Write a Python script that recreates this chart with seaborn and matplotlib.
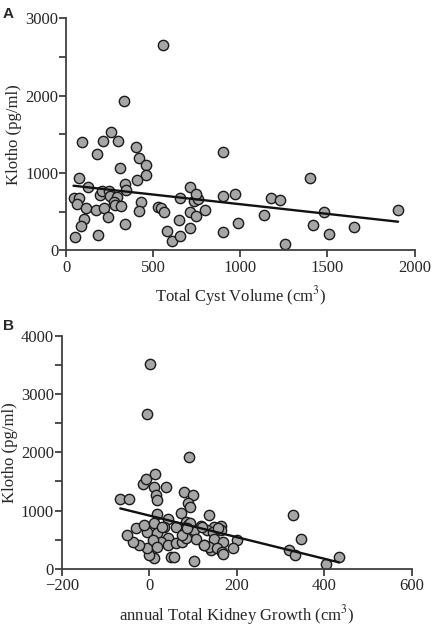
import matplotlib
matplotlib.use('Agg')
import matplotlib.pyplot as plt
import numpy as np
import pandas as pd
import seaborn as sns
from matplotlib.ticker import MultipleLocator

# Panel A: Klotho vs total cyst volume
tcv = [90, 180, 212, 258, 301, 331, 404, 416, 558, 903,
       312, 457, 457, 405, 76, 432, 336, 344, 125,
       43, 76, 63, 117, 171, 193, 207, 247, 254, 291, 273, 282, 316, 218, 240, 106, 86, 50, 186, 338, 421, 530, 544, 565,
       580, 606, 646, 656, 713, 714, 713, 737, 756, 748, 748, 798, 655, 902, 902, 971, 988, 1134, 1178, 1228, 1258,
       1399, 1418, 1482, 1510, 1651, 1905]
klotho_a = [1404, 1250, 1410, 1535, 1417, 1931, 1338, 1188, 2661, 1270,
            1067, 1105, 976, 912, 941, 630, 853, 782, 825,
            676, 676, 604, 545, 527, 715, 773, 768, 702, 690, 628, 585, 570, 545, 436, 406, 317, 167, 197, 337, 511, 558, 545, 501,
            250, 125, 391, 186, 285, 817, 497, 641, 667, 728, 448, 516, 676, 704, 233, 723, 350, 453, 678, 646, 80,
            935, 328, 490, 210, 306, 522]

# Panel B: Klotho vs annual total kidney growth
tkg = [1.5, -4.6, 91,
       -66, -45, -13, -8, 13, 11, 38, 15, 19,
       80, 101, 88, 93, 72, 136, 19, 42,
       329, 347, 320, 334, 434, 405,
       103, 50, 57, 11, 0, -4, -23, -38, -50, -30, -4, -11, 11, 34, 61, 19, 42, 27, 8, 19, 42, 61,
       84, 88, 118, 149, 164, 133, 145, 164, 80, 91, 103, 107, 76, 84, 149, 168, 200, 126, 141, 137, 156, 166, 192, 168,
       30, 74, 94, 86, 120, 125, 157]
klotho_b = [3514, 2657, 1924,
            1205, 1205, 1460, 1540, 1625, 1409, 1409, 1266, 1180,
            1323, 1266, 1124, 1065, 951, 918, 945, 860,
            925, 517, 322, 230, 207, 80,
            140, 206, 206, 178, 235, 350, 407, 464, 579, 694, 636, 751, 780, 722, 722, 608, 522, 464, 493, 378, 407, 436,
            808, 751, 734, 722, 739, 665, 636, 665, 608, 579, 665, 505, 464, 522, 505, 464, 493, 407, 321, 378, 350, 292, 350, 253,
            724, 580, 782, 707, 724, 408, 707]

df_a = pd.DataFrame({'tcv': tcv, 'klotho': klotho_a})
df_b = pd.DataFrame({'tkg': tkg, 'klotho': klotho_b})

sns.set_style('ticks')
plt.rcParams['font.family'] = ['Liberation Serif', 'DejaVu Serif']
plt.rcParams['mathtext.fontset'] = 'stix'

fig = plt.figure(figsize=(4.32, 6.27), dpi=100)
ax1 = fig.add_axes([0.1528, 0.6008, 0.807, 0.370])
ax2 = fig.add_axes([0.1428, 0.0930, 0.810, 0.371])

scat = dict(s=55, color='#a6a6a6', edgecolor='#1a1a1a', linewidths=1.0, alpha=1)
line = dict(color='#111111', linewidth=1.7)

sns.regplot(data=df_a, x='tcv', y='klotho', ax=ax1, ci=None,
            scatter_kws=scat, line_kws=line)
sns.regplot(data=df_b, x='tkg', y='klotho', ax=ax2, ci=None,
            scatter_kws=scat, line_kws=line)

ax1.set_xlim(0, 2000)
ax1.set_ylim(0, 3000)
ax1.xaxis.set_major_locator(MultipleLocator(500))
ax1.yaxis.set_major_locator(MultipleLocator(1000))
ax1.yaxis.set_minor_locator(MultipleLocator(500))
ax1.set_xlabel(r'Total Cyst Volume (cm$^3$)', fontsize=12, labelpad=6)

ax2.set_xlim(-200, 600)
ax2.set_ylim(0, 4000)
ax2.xaxis.set_major_locator(MultipleLocator(200))
ax2.yaxis.set_major_locator(MultipleLocator(1000))
ax2.yaxis.set_minor_locator(MultipleLocator(500))
ax2.set_xlabel(r'annual Total Kidney Growth (cm$^3$)', fontsize=12, labelpad=6)

for ax in (ax1, ax2):
    sns.despine(ax=ax)
    for s in ('left', 'bottom'):
        ax.spines[s].set_color('#404040')
        ax.spines[s].set_linewidth(1.3)
    ax.tick_params(which='both', direction='out', color='#404040', width=1.3,
                   labelsize=12, length=5)
    ax.tick_params(axis='y', which='both', pad=0.5)
    ax.tick_params(axis='x', which='both', pad=2)
    ax.set_ylabel('Klotho (pg/ml)', fontsize=12, labelpad=2)
    for t in ax.get_xticklabels() + ax.get_yticklabels():
        t.set_family('Liberation Serif')

fig.text(0.007, 0.978, 'A', fontsize=11, fontweight='bold', family='Liberation Sans', va='center')
fig.text(0.007, 0.48, 'B', fontsize=11, fontweight='bold', family='Liberation Sans', va='center')

fig.savefig('out.png', dpi=100)
